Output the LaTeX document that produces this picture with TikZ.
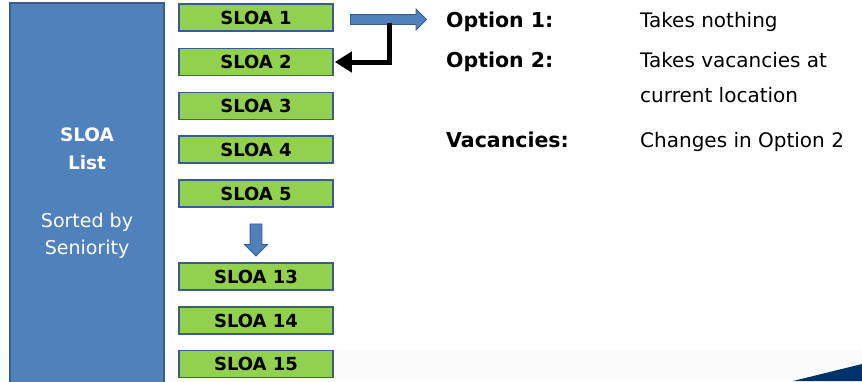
\documentclass[tikz,border=0pt]{standalone}
\usepackage{fontspec}
\setmainfont{DejaVu Sans}
\usetikzlibrary{positioning, arrows.meta, shapes.arrows}

\definecolor{listblue}{HTML}{4F81BD}
\definecolor{edgeblue}{HTML}{385D8A}
\definecolor{sloagreen}{HTML}{92D050}
\definecolor{swoosh}{HTML}{00336B}

\tikzset{
    sloabox/.style={draw=edgeblue, line width=1.6pt, fill=sloagreen, minimum width=154, minimum height=27, inner sep=0pt, font=\fontsize{18}{20}\selectfont\bfseries},
    fatarrow/.style={single arrow, draw=edgeblue, line width=0.8pt, fill=listblue, inner sep=4.5pt, single arrow head extend=5.5pt, single arrow tip angle=90},
    optlabel/.style={anchor=base west, inner sep=0pt, font=\fontsize{20.5}{24}\selectfont\bfseries},
    opttext/.style={anchor=base west, inner sep=0pt, align=left, font=\fontsize{20}{35}\selectfont}
}

\begin{document}
\begin{tikzpicture}[x=1pt, y=-1pt]
    \useasboundingbox (0,0) rectangle (862,381);
    \begin{scope}
    \clip (0,0) rectangle (862,381);
    % Slide background band and corner swoosh
    \fill[gray!3] (0,350) rectangle (862,381);
    \fill[swoosh] (793,381) -- (862,364) -- (862,381) -- cycle;
    % Seniority list
    \node[draw=edgeblue, line width=1.6pt, fill=listblue, minimum width=154, minimum height=392, inner sep=0pt] (list) at (87,199) {};
    \end{scope}
    \node[text=white, align=center, font=\fontsize{18.5}{28}\selectfont\bfseries] (title) at (87,149) {SLOA\\List};
    \node[text=white, align=center, font=\fontsize{19}{27}\selectfont] (note) at (87,236) {Sorted by\\Seniority};
    % Green SLOA boxes
    \foreach \n/\y in {1/17.5, 2/62, 3/106, 4/149.5, 5/193.5, 13/276.5, 14/320.5, 15/364} {
        \node[sloabox] (s\n) at (256,\y) {SLOA \n};
    }
    % Skip arrow between SLOA 5 and SLOA 13
    \node[fatarrow, inner xsep=5.5pt, shape border rotate=270, minimum height=32] (skip) at (256,237) {};
    % Options
    \node[optlabel] (opt1) at (446,27) {Option 1:};
    \node[optlabel] (opt2) at (446,67) {Option 2:};
    \node[optlabel] (vac) at (446,147) {Vacancies:};
    \node[opttext] (take1) at (640,27) {Takes nothing};
    \node[opttext] (take2) at (640,102) {Takes vacancies at\\current location};
    \node[opttext] (change) at (640,147) {Changes in Option 2};
    % Arrow from SLOA 1 to Option 1
    \node[fatarrow, inner xsep=0pt, minimum height=76] (go) at (386,19.5) {};
    \coordinate (drop) at (389,23);
    \draw[line width=5pt, -{Triangle[length=17pt, width=20pt]}] (drop) |- ([xshift=1pt]s2.east);
\end{tikzpicture}
\end{document}
